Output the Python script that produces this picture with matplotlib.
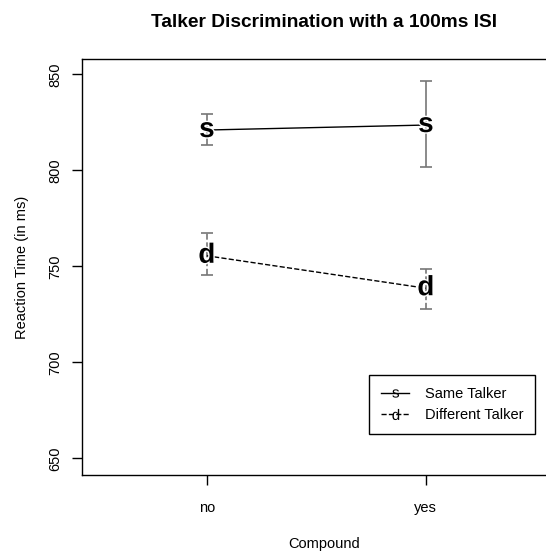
import numpy as np
import matplotlib.pyplot as plt
import matplotlib.patheffects as pe
from matplotlib.lines import Line2D
from matplotlib.textpath import TextPath
from matplotlib.font_manager import FontProperties
from matplotlib.path import Path

plt.rcParams['font.family'] = ['Liberation Sans', 'DejaVu Sans']

# data
compound = ['no', 'yes']
same_mean = [821, 823.6]
same_low = [813.2, 802]
same_high = [829.5, 846.5]
diff_mean = [755.5, 738.6]
diff_low = [745.5, 727.6]
diff_high = [767.2, 748.4]

x = np.arange(1, len(compound) + 1)

fig = plt.figure(figsize=(5.46, 5.51), dpi=100)
ax = fig.add_axes([82 / 546, 76 / 551, 484 / 546, 416 / 551])

grey = '#777777'


def draw_series(means, lows, highs, letter, ls):
    means = np.array(means)
    err = [means - np.array(lows), np.array(highs) - means]
    eb = ax.errorbar(x, means, yerr=err, fmt='none', ecolor=grey,
                     elinewidth=1.2, capsize=4.5, capthick=1.2, zorder=1)
    eb[2][0].set_linestyle(ls)
    ax.plot(x, means, color='black', lw=1, ls=ls, zorder=2)
    for xi, yi in zip(x, means):
        ax.text(xi, yi, letter, ha='center', va='center', fontsize=20,
                fontweight='bold', color='black', zorder=3,
                path_effects=[pe.withStroke(linewidth=2, foreground='white')])


draw_series(same_mean, same_low, same_high, 's', '-')
draw_series(diff_mean, diff_low, diff_high, 'd', '--')

ax.set_xlim(0.43, 2.64)
ax.set_ylim(641.3, 858)
ax.set_xticks(x)
ax.set_xticklabels(compound)
ax.set_yticks([650, 700, 750, 800, 850])
ax.tick_params(axis='both', direction='out', length=7, width=1,
               labelsize=10.5, pad=12)
ax.tick_params(axis='y', pad=7)
for lab in ax.get_yticklabels():
    lab.set_rotation(90)
    lab.set_va('center')
for sp in ax.spines.values():
    sp.set_linewidth(1)
    sp.set_color('black')

ax.set_xlabel('Compound', fontsize=10.5, labelpad=15.5)
ax.set_ylabel('Reaction Time (in ms)', fontsize=10.5, labelpad=14)
ax.set_title('Talker Discrimination with a 100ms ISI', fontsize=13.8,
             fontweight='bold', pad=23)


def letter_marker(ch):
    tp = TextPath((0, 0), ch, prop=FontProperties(family='Liberation Sans'))
    v = tp.vertices.copy()
    v -= (v.max(axis=0) + v.min(axis=0)) / 2
    return Path(v, tp.codes)


handles = [
    Line2D([], [], color='black', lw=1, ls='-', marker=letter_marker('s'),
           markersize=6, markerfacecolor='black', markeredgewidth=0),
    Line2D([], [], color='black', lw=1, ls='--', marker=letter_marker('d'),
           markersize=8, markerfacecolor='black', markeredgewidth=0),
]
leg = ax.legend(handles, ['Same Talker', 'Different Talker'],
                loc='upper right', bbox_to_anchor=((535 - 82) / 484, (475 - 375) / 416),
                borderaxespad=0, fontsize=10.5, fancybox=False, framealpha=1,
                edgecolor='black', handlelength=1.9, borderpad=0.8,
                labelspacing=0.5, handletextpad=1.1)
leg.get_frame().set_linewidth(1)

fig.savefig('out.png', dpi=100)
